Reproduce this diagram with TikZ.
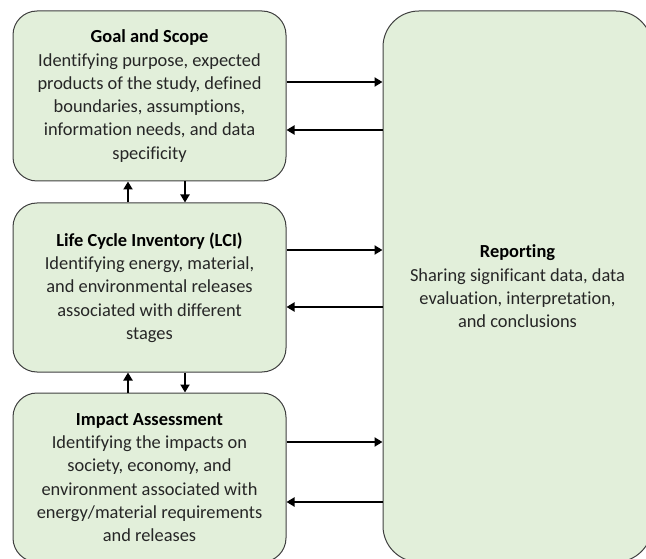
\documentclass[tikz,border=0pt]{standalone}
\usepackage{fontspec}
\setmainfont[Ligatures=NoCommon]{Carlito}
\usetikzlibrary{arrows.meta}
\definecolor{boxfill}{HTML}{E2EFDA}
\definecolor{boxline}{HTML}{404040}
\definecolor{bodytext}{HTML}{262626}
\tikzset{
  stage/.style={draw=boxline, fill=boxfill, line width=1pt, rounded corners=24pt,
    minimum width=273pt, minimum height=169pt, inner sep=0pt, align=center,
    text=bodytext, font=\fontsize{18.4}{23.3}\selectfont},
  report/.style={stage, rounded corners=36pt, minimum width=269pt, minimum height=551pt},
  link/.style={line width=2.6pt, -{Triangle[length=8pt,width=9pt]}},
}
\newcommand{\hd}[1]{\textbf{\color{black}#1}}
\begin{document}
\begin{tikzpicture}[x=1pt,y=-1pt]
\useasboundingbox (0,0) rectangle (646,559);

\node[stage, minimum height=170pt] (goal) at (149.5,96)
  {\hd{Goal and Scope}\\Identifying purpose, expected\\products of the study, defined\\boundaries, assumptions,\\information needs, and data\\specificity};
\node[stage] (lci) at (149.5,287.5)
  {\hd{Life Cycle Inventory (LCI)}\\Identifying energy, material,\\and environmental releases\\associated with different\\stages};
\node[stage] (impact) at (149.5,477.5)
  {\hd{Impact Assessment}\\Identifying the impacts on\\society, economy, and\\environment associated with\\energy/material requirements\\and releases};
\node[report] (rep) at (517.5,286.5)
  {\hd{Reporting}\\Sharing significant data, data\\evaluation, interpretation,\\and conclusions};

% links between each stage and the report
\draw[link] ([yshift=14pt]goal.east) -- ([yshift=14pt]goal.east -| rep.west);
\draw[link] ([yshift=-34pt]goal.east -| rep.west) -- ([yshift=-34pt]goal.east);
\draw[link] ([yshift=37.5pt]lci.east) -- ([yshift=37.5pt]lci.east -| rep.west);
\draw[link] ([yshift=-19.5pt]lci.east -| rep.west) -- ([yshift=-19.5pt]lci.east);
\draw[link] ([yshift=35.5pt]impact.east) -- ([yshift=35.5pt]impact.east -| rep.west);
\draw[link] ([yshift=-24.5pt]impact.east -| rep.west) -- ([yshift=-24.5pt]impact.east);

% links between consecutive stages
\draw[link] ([xshift=-21.5pt]lci.north) -- ([xshift=-21.5pt]goal.south);
\draw[link] ([xshift=35.5pt]goal.south) -- ([xshift=35.5pt]lci.north);
\draw[link] ([xshift=-21.5pt]impact.north) -- ([xshift=-21.5pt]lci.south);
\draw[link] ([xshift=35.5pt]lci.south) -- ([xshift=35.5pt]impact.north);
\end{tikzpicture}
\end{document}
